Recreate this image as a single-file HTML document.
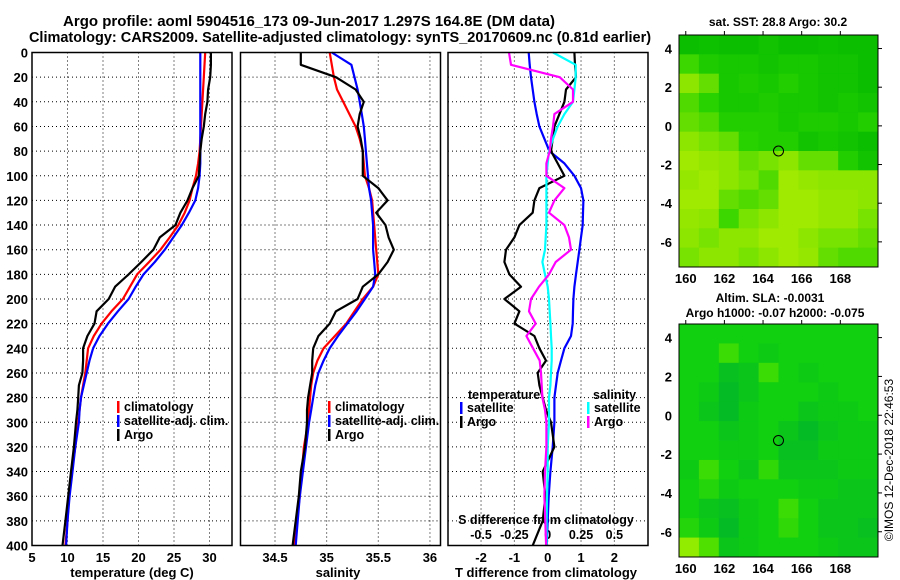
<!DOCTYPE html>
<html><head><meta charset="utf-8"><style>
body{margin:0;background:#fff;}
svg{display:block;font-family:"Liberation Sans",sans-serif;font-weight:bold;}
</style></head><body>
<svg id="c" width="900" height="580" viewBox="0 0 900 580" xmlns="http://www.w3.org/2000/svg">
<text x="309" y="26" font-size="15" text-anchor="middle">Argo profile: aoml 5904516_173 09-Jun-2017 1.297S 164.8E (DM data)</text>
<text x="340" y="42" font-size="14.5" text-anchor="middle">Climatology: CARS2009. Satellite-adjusted climatology: synTS_20170609.nc (0.81d earlier)</text>
<text x="778" y="26" font-size="12" text-anchor="middle">sat. SST: 28.8 Argo: 30.2</text>
<text x="770" y="302" font-size="12" text-anchor="middle">Altim. SLA: -0.0031</text>
<text x="775" y="317" font-size="12" text-anchor="middle">Argo h1000: -0.07 h2000: -0.075</text>
<text transform="translate(893,460) rotate(-90)" font-size="12" font-weight="normal" text-anchor="middle">©IMOS 12-Dec-2018 22:46:53</text>
<g id="g"></g>
</svg>
<script>
const depths=[0,10,20,30,40,50,60,70,80,90,100,110,120,130,140,150,160,170,180,190,200,210,220,230,240,250,260,270,280,290,300,320,340,360,380,400];
// temperature (deg C)
const tClim=[29.4,29.3,29.2,29.1,29.0,28.9,28.8,28.7,28.6,28.4,28.1,27.6,27.2,26.5,25.6,24.4,23.1,21.5,19.8,18.8,17.8,16.2,14.8,13.7,12.9,12.7,12.5,12.2,11.9,11.7,11.5,11.1,10.6,10.2,10.0,9.7];
const tSat=[28.7,28.7,28.7,28.7,28.7,28.7,28.7,28.7,28.7,28.7,28.6,28.4,28.0,27.1,26.1,24.9,23.7,22.3,20.7,19.6,18.6,17.1,15.7,14.5,13.6,13.1,12.7,12.3,11.9,11.7,11.6,11.1,10.7,10.3,10.0,9.8];
const tArgo=[30.2,30.2,30.1,29.8,29.7,29.4,29.2,28.9,28.7,28.6,28.5,27.6,26.9,25.9,25.2,23.0,22.1,20.4,18.6,16.7,15.8,14.1,13.8,12.8,12.2,12.2,12.1,11.6,11.5,11.4,11.2,10.9,10.5,10.1,9.7,9.3];
// salinity (psu)
const sClim=[35.03,35.05,35.07,35.10,35.16,35.22,35.28,35.32,35.35,35.36,35.37,35.41,35.44,35.45,35.46,35.47,35.48,35.49,35.50,35.45,35.35,35.27,35.19,35.08,34.97,34.91,34.87,34.85,34.84,34.83,34.82,34.78,34.76,34.74,34.71,34.69];
const sSat=[35.05,35.24,35.27,35.30,35.32,35.34,35.36,35.37,35.38,35.39,35.40,35.41,35.43,35.44,35.45,35.45,35.45,35.46,35.47,35.45,35.37,35.29,35.20,35.11,35.03,34.97,34.92,34.89,34.87,34.85,34.83,34.80,34.77,34.74,34.72,34.70];
const sArgo=[34.75,34.75,35.09,35.28,35.36,35.32,35.30,35.33,35.35,35.35,35.35,35.50,35.59,35.48,35.57,35.60,35.65,35.59,35.50,35.35,35.30,35.09,35.03,34.92,34.87,34.86,34.86,34.84,34.82,34.81,34.81,34.79,34.75,34.73,34.70,34.67];
// differences from climatology
const dTSat=[-0.57,-0.54,-0.5,-0.45,-0.4,-0.33,-0.25,-0.1,0.05,0.5,0.8,1.0,1.07,1.06,1.05,1.0,0.95,0.9,0.85,0.8,0.77,0.76,0.75,0.7,0.5,0.4,0.3,0.25,0.2,0.2,0.2,0.15,0.08,0.03,0.0,-0.03];
const dTArgo=[0.8,0.82,0.85,0.55,0.5,0.35,0.2,0.15,0.1,0.3,0.5,-0.25,-0.4,-0.45,-0.85,-1.0,-1.25,-1.3,-1.15,-0.8,-1.3,-0.85,-1.0,-0.4,-0.25,-0.05,-0.3,-0.25,-0.15,-0.05,0.1,0.2,-0.15,-0.07,-0.15,-0.45];
const dSSat=[0.04,0.21,0.21,0.2,0.19,0.125,0.075,0.04,0.01,0.0,-0.01,-0.01,-0.01,-0.01,-0.01,-0.015,-0.02,-0.04,-0.02,0.0,0.01,0.015,0.02,0.025,0.03,0.03,0.025,0.02,0.01,0.01,0.01,0.0,0.0,-0.005,-0.008,-0.008];
const dSArgo=[-0.29,-0.275,0.09,0.19,0.19,0.05,0.04,0.025,0.015,-0.01,-0.01,0.125,0.05,0.01,0.125,0.16,0.175,0.06,0.01,-0.065,-0.125,-0.14,-0.09,-0.16,-0.11,-0.06,-0.05,-0.045,-0.04,-0.02,-0.01,-0.01,-0.02,-0.025,-0.018,-0.012];
const tTicks=[5,10,15,20,25,30];
const sTicks=["34.5","35","35.5","36"];
const dTTicks=[-2,-1,0,1,2];
const dSTicks=["-0.5","-0.25","0","0.25","0.5"];
const yTicks=[0,20,40,60,80,100,120,140,160,180,200,220,240,260,280,300,320,340,360,380,400];
const lonTicks=[160,162,164,166,168];
const latTicks=[4,2,0,-2,-4,-6];
const sstGrid=[
[0.1,0.12,0.1,0.1,0.15,0.1,0.1,0.12,0.1,0.1],
[0.4,0.25,0.2,0.2,0.15,0.2,0.2,0.15,0.15,0.1],
[0.6,0.5,0.2,0.25,0.2,0.3,0.2,0.15,0.15,0.1],
[0.45,0.35,0.2,0.2,0.25,0.2,0.2,0.15,0.2,0.15],
[0.5,0.45,0.3,0.3,0.3,0.2,0.25,0.25,0.2,0.3],
[0.6,0.55,0.5,0.35,0.3,0.3,0.15,0.2,0.15,0.1],
[0.7,0.65,0.6,0.5,0.55,0.6,0.5,0.5,0.3,0.15],
[0.65,0.7,0.6,0.55,0.45,0.7,0.65,0.6,0.6,0.6],
[0.7,0.7,0.5,0.45,0.5,0.7,0.7,0.65,0.65,0.6],
[0.65,0.6,0.4,0.55,0.6,0.7,0.7,0.65,0.65,0.55],
[0.6,0.55,0.6,0.6,0.7,0.7,0.6,0.55,0.55,0.5],
[0.55,0.6,0.6,0.55,0.6,0.7,0.65,0.5,0.45,0.45]];
const slaGrid=[
[0.3,0.3,0.3,0.3,0.3,0.3,0.3,0.3,0.3,0.3],
[0.3,0.3,0.5,0.3,0.25,0.3,0.3,0.3,0.3,0.3],
[0.3,0.3,0.15,0.2,0.5,0.3,0.25,0.3,0.3,0.3],
[0.3,0.25,0.1,0.2,0.3,0.3,0.3,0.25,0.3,0.3],
[0.3,0.2,0.1,0.25,0.3,0.3,0.2,0.25,0.25,0.3],
[0.3,0.3,0.2,0.25,0.3,0.2,0.1,0.2,0.25,0.25],
[0.3,0.3,0.25,0.25,0.3,0.15,0.15,0.25,0.25,0.25],
[0.25,0.5,0.3,0.2,0.45,0.2,0.2,0.2,0.25,0.25],
[0.3,0.4,0.25,0.3,0.3,0.3,0.25,0.25,0.2,0.2],
[0.3,0.2,0.15,0.25,0.3,0.5,0.3,0.2,0.2,0.2],
[0.4,0.25,0.1,0.25,0.3,0.45,0.3,0.2,0.2,0.15],
[0.9,0.6,0.2,0.25,0.3,0.3,0.3,0.25,0.2,0.2]];
const argoPos=[164.8,-1.3];

const NS='http://www.w3.org/2000/svg';
const G=document.getElementById('g');
function mk(tag,at,parent){const e=document.createElementNS(NS,tag);for(const k in at)e.setAttribute(k,at[k]);(parent||G).appendChild(e);return e;}
const Y0=52.5,Y1=545.5;
const yD=d=>Y0+(Y1-Y0)*d/400;
const xT=v=>32+(v-5)*7.1;
const xS=v=>275+(v-34.5)*103.3;
const xDT=v=>547.7+v*33.33;
const xDS=v=>547.7+v*133.33;
const panels=[[32,232],[240.5,440.5],[448,648]];

function vgrid(x){const l=mk('line',{x1:x,x2:x,y1:Y0,y2:Y1,stroke:'#000','stroke-width':1,'stroke-dasharray':'1 3'});}
panels.forEach(p=>{yTicks.forEach(d=>{if(d>0&&d<400){const l=mk('line',{x1:p[0],x2:p[1],y1:yD(d),y2:yD(d),stroke:'#000','stroke-width':1,'stroke-dasharray':'1 3'});}});});
tTicks.forEach(v=>{if(v>5)vgrid(xT(v));});
sTicks.forEach(v=>vgrid(xS(+v)));
dTTicks.forEach(v=>vgrid(xDT(v)));

function label(x,y,txt,name,anchor,size){const t=mk('text',{x:x,y:y,'font-size':size||12,'text-anchor':anchor||'middle'});t.textContent=txt;return t;}
yTicks.forEach(d=>label(28,yD(d)+5,String(d),'y-tick-label','end',13));
tTicks.forEach(v=>label(xT(v),562,String(v),'x-tick-label-temperature','middle',13));
sTicks.forEach(v=>label(xS(+v),562,v,'x-tick-label-salinity','middle',13));
dTTicks.forEach(v=>label(xDT(v),562,String(v),'x-tick-label-tdiff','middle',13));
dSTicks.forEach(v=>label(xDS(+v),539,v,'x-tick-label-sdiff','middle',12.5));
label(132,577,'temperature (deg C)','x-axis-title-temperature','middle',13);
label(338,577,'salinity','x-axis-title-salinity','middle',13);
label(546,577,'T difference from climatology','x-axis-title-tdiff','middle',13);
label(546,524,'S difference from climatology','x-axis-title-sdiff','middle',12.5);

function line(xs,vals,fx,color,name){const pts=vals.map((v,i)=>fx(v).toFixed(1)+','+yD(depths[i]).toFixed(1)).join(' ');const p=mk('polyline',{points:pts,fill:'none',stroke:color,'stroke-width':2.2,'stroke-linejoin':'round'});}
line(0,tClim,xT,'#f00','temperature-climatology-line');
line(0,tSat,xT,'#00f','temperature-satellite-line');
line(0,tArgo,xT,'#000','temperature-argo-line');
line(0,sClim,xS,'#f00','salinity-climatology-line');
line(0,sSat,xS,'#00f','salinity-satellite-line');
line(0,sArgo,xS,'#000','salinity-argo-line');
line(0,dTSat,xDT,'#00f','tdiff-satellite-line');
line(0,dTArgo,xDT,'#000','tdiff-argo-line');
line(0,dSSat,xDS,'#0ff','sdiff-satellite-line');
line(0,dSArgo,xDS,'#f0f','sdiff-argo-line');

panels.forEach(p=>{const r=mk('rect',{x:p[0],y:Y0,width:p[1]-p[0],height:Y1-Y0,fill:'none',stroke:'#000','stroke-width':1.5});});

function legend(x,y,color,txt,name){const r=mk('rect',{x:x,y:y-10,width:2.5,height:12,fill:color});label(x+7,y,txt,name,'start',12.5);}
legend(117,411,'#f00','climatology','legend-climatology-t');
legend(117,425,'#00f','satellite-adj. clim.','legend-satellite-t');
legend(117,439,'#000','Argo','legend-argo-t');
legend(328,411,'#f00','climatology','legend-climatology-s');
legend(328,425,'#00f','satellite-adj. clim.','legend-satellite-s');
legend(328,439,'#000','Argo','legend-argo-s');
label(468,399,'temperature','legend-temperature-header','start',12.5);
legend(460,412,'#00f','satellite','legend-tdiff-satellite');
legend(460,426,'#000','Argo','legend-tdiff-argo');
label(593,399,'salinity','legend-salinity-header','start',12.5);
legend(587,412,'#0ff','satellite','legend-sdiff-satellite');
legend(587,426,'#f0f','Argo','legend-sdiff-argo');

function lerp(a,b,t){return a.map((v,i)=>Math.round(v+(b[i]-v)*t));}
function cmap(stops,v){for(let i=1;i<stops.length;i++){if(v<=stops[i][0]){const t=(v-stops[i-1][0])/(stops[i][0]-stops[i-1][0]);const c=lerp(stops[i-1][1],stops[i][1],t);return 'rgb('+c.join(',')+')';}}const c=stops[stops.length-1][1];return 'rgb('+c.join(',')+')';}
const sstStops=[[0,[0,184,0]],[0.35,[40,210,0]],[0.6,[140,230,0]],[1,[220,240,0]]];
const slaStops=[[0,[0,176,48]],[0.3,[16,208,16]],[0.6,[80,224,0]],[1,[168,240,0]]];
function drawMap(top,bottom,grid,stops,name){
  const L=679,R=878;const lonMin=159.65,lonMax=169.95,latMax=4.7,latMin=-7.3;
  const xL=v=>L+(v-lonMin)*(R-L)/(lonMax-lonMin);
  const yL=v=>top+(latMax-v)*(bottom-top)/(latMax-latMin);
  const rows=grid.length,cols=grid[0].length;
  const cw=(R-L)/cols,ch=(bottom-top)/rows;
  grid.forEach((row,i)=>row.forEach((v,j)=>{const r=mk('rect',{x:L+j*cw,y:top+i*ch,width:cw+0.5,height:ch+0.5,fill:cmap(stops,v)});}));
  const f=mk('rect',{x:L,y:top,width:R-L,height:bottom-top,fill:'none',stroke:'#000','stroke-width':1});
  lonTicks.forEach(v=>{mk('line',{x1:xL(v),x2:xL(v),y1:top-4,y2:top,stroke:'#000'});label(xL(v),bottom+16,String(v),name+'-lon-label','middle',13);});
  latTicks.forEach(v=>{mk('line',{x1:R,x2:R+4,y1:yL(v),y2:yL(v),stroke:'#000'});label(672,yL(v)+5,String(v),name+'-lat-label','end',13);});
  const c=mk('circle',{cx:xL(argoPos[0]),cy:yL(argoPos[1]),r:5,fill:'none',stroke:'#000','stroke-width':1});
}
drawMap(35,267,sstGrid,sstStops,'sst-map');
drawMap(324,557,slaGrid,slaStops,'sla-map');
</script>
</body></html>
